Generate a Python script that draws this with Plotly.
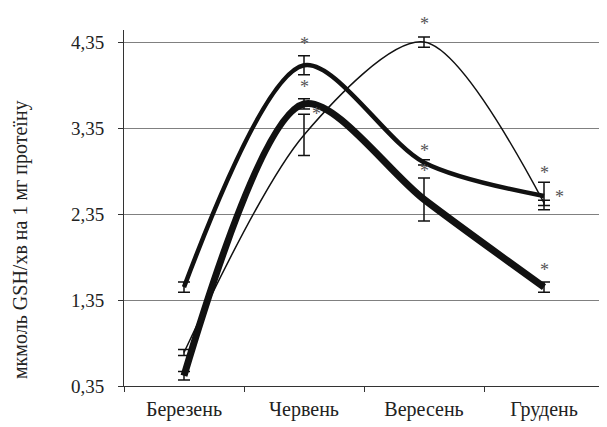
import plotly.graph_objects as go

months = ["Березень", "Червень", "Вересень", "Грудень"]
y_ticks = [0.35, 1.35, 2.35, 3.35, 4.35]
y_tick_labels = ["0,35", "1,35", "2,35", "3,35", "4,35"]

# medium line
series_a = [1.50, 4.08, 2.95, 2.56]
err_a = [0.06, 0.11, 0.03, 0.16]
# thick line
series_b = [0.47, 3.63, 2.52, 1.50]
err_b = [0.05, 0.06, 0.25, 0.06]
# thin line
series_c = [0.74, 3.27, 4.35, 2.48]
err_c = [0.035, 0.24, 0.06, 0.03]

# significance marks: (series, month index, placement)
stars = [("a", 1, "top"), ("b", 1, "top"), ("c", 1, "right"),
         ("c", 2, "top"), ("a", 2, "top"), ("b", 2, "top"),
         ("a", 3, "top"), ("c", 3, "right"), ("b", 3, "top")]
# pixel nudges for each mark (style only)
star_shift = {("a", 1): (0, 0), ("b", 1): (0, 0), ("c", 1): (6, 0),
              ("c", 2): (0, 1), ("a", 2): (0, -3), ("b", 2): (0, -5),
              ("a", 3): (0, -3), ("c", 3): (9, 3), ("b", 3): (0, 0)}

data = {"a": (series_a, err_a, 4.5), "b": (series_b, err_b, 7), "c": (series_c, err_c, 1.5)}

SERIF = "Liberation Serif, Times New Roman, serif"

fig = go.Figure()
for key in ["c", "a", "b"]:
    vals, errs, w = data[key]
    fig.add_trace(go.Scatter(
        x=months, y=vals, mode="lines",
        line=dict(color="#111111", width=w, shape="spline", smoothing=0.85),
        error_y=dict(type="data", array=errs, visible=True, color="#111111",
                     thickness=1.5, width=6),
        showlegend=False, hoverinfo="skip"))

for key, i, pos in stars:
    vals, errs, _ = data[key]
    dx, dy = star_shift[(key, i)]
    if pos == "top":
        fig.add_annotation(x=months[i], y=vals[i] + errs[i], text="*", showarrow=False,
                           yanchor="bottom", xshift=dx, yshift=dy,
                           font=dict(family=SERIF, size=18, color="#555555"))
    else:
        fig.add_annotation(x=months[i], y=vals[i] + errs[i], text="*", showarrow=False,
                           xanchor="left", yanchor="middle", xshift=dx, yshift=dy,
                           font=dict(family=SERIF, size=18, color="#555555"))

fig.add_annotation(xref="paper", yref="paper", x=0, y=0.41, xshift=-104,
                   text="мкмоль GSH/хв на 1 мг протеїну",
                   textangle=-90, showarrow=False, xanchor="center", yanchor="middle",
                   font=dict(family=SERIF, size=20, color="#222222"))

# page body has an 8px default margin, so the figure is sized to fit inside the window
fig.update_layout(
    width=599, height=419,
    margin=dict(l=116, r=3, t=22, b=41),
    paper_bgcolor="white", plot_bgcolor="white",
    font=dict(family=SERIF, size=18, color="#222222"),
)
fig.update_xaxes(type="category", range=[-0.5, 3.5], showline=True, linecolor="#333333", linewidth=1,
                 ticks="outside", tickson="boundaries", ticklen=5, tickcolor="#333333",
                 showgrid=False, tickfont=dict(family=SERIF, size=20), ticklabelstandoff=5)
fig.update_yaxes(range=[0.35, 4.49], tickvals=y_ticks, ticktext=y_tick_labels,
                 showline=True, linecolor="#333333", linewidth=1,
                 ticks="outside", ticklen=5, tickcolor="#333333",
                 showgrid=True, gridcolor="#808080", gridwidth=1, zeroline=False,
                 tickfont=dict(family=SERIF, size=19), ticklabelstandoff=10)

fig.write_html("out.html")
